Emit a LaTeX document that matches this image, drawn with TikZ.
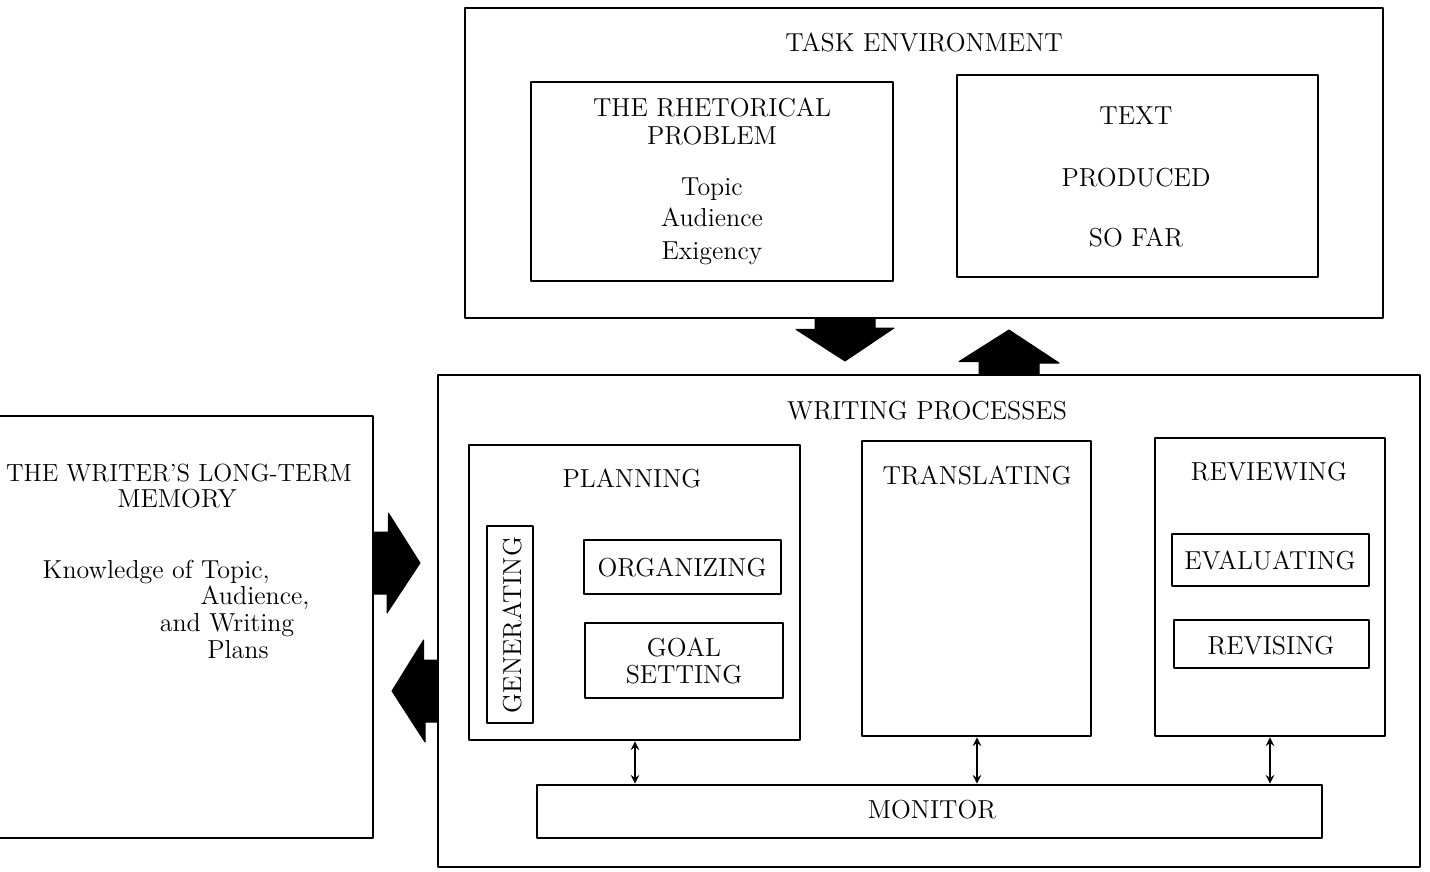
\documentclass[tikz,border=0pt]{standalone}
\usetikzlibrary{fit}
\tikzset{every picture/.style={line width=0.75pt}}
\begin{document}
\begin{tikzpicture}[x=0.5pt, y=-0.5pt,
    line cap=round, line join=round,
    box/.style={draw, line width=1.4pt, inner sep=0pt},
    lbl/.style={anchor=base, inner sep=0pt, font=\fontsize{13}{15}\selectfont},
    blockarrow/.style={fill=black, draw=black, line width=0.5pt},
    link/.style={>=stealth, <->, line width=0.9pt}]
  \useasboundingbox (0,0) rectangle (1430,872);

  % task environment
  \node[box, fit={(465,8) (1383,318)}] (task) {};
  \node[lbl] (taskt) at (924,52) {TASK ENVIRONMENT};
  \node[box, fit={(531,82) (893,281)}] (rhet) {};
  \node[lbl] (rhet1) at (712,117) {THE RHETORICAL};
  \node[lbl] (rhet2) at (712,145) {PROBLEM};
  \node[lbl] (rhet3) at (712,195) {Topic};
  \node[lbl] (rhet4) at (712,227) {Audience};
  \node[lbl] (rhet5) at (712,259) {Exigency};
  \node[box, fit={(957,75) (1318,277)}] (text) {};
  \node[lbl] (text1) at (1136,125) {TEXT};
  \node[lbl] (text2) at (1136,186) {PRODUCED};
  \node[lbl] (text3) at (1136,246) {SO FAR};

  % writing processes
  \node[box, fit={(438,375) (1420,867)}] (write) {};
  \node[lbl] (writet) at (927,419) {WRITING PROCESSES};
  \node[box, fit={(469,445) (800,740)}] (plan) {};
  \node[lbl] (plant) at (632,487) {PLANNING};
  \node[box, fit={(487,526) (533,723)}] (gen) {};
  \node[rotate=90, inner sep=0pt, font=\fontsize{13}{15}\selectfont] (gent) at (512,625) {GENERATING};
  \node[box, fit={(584,540) (781,594)}] (org) {};
  \node[lbl] (orgt) at (682,576) {ORGANIZING};
  \node[box, fit={(585,623) (783,698)}] (goal) {};
  \node[lbl] (goal1) at (684,656) {GOAL};
  \node[lbl] (goal2) at (684,683) {SETTING};
  \node[box, fit={(862,441) (1091,736)}] (trans) {};
  \node[lbl] (transt) at (977,484) {TRANSLATING};
  \node[box, fit={(1155,438) (1385,736)}] (rev) {};
  \node[lbl] (revt) at (1269,480) {REVIEWING};
  \node[box, fit={(1172,534) (1369,586)}] (eval) {};
  \node[lbl] (evalt) at (1270,569) {EVALUATING};
  \node[box, fit={(1174,620) (1369,668)}] (revis) {};
  \node[lbl] (revist) at (1271,654) {REVISING};
  \node[box, fit={(537,785) (1322,838)}] (mon) {};
  \node[lbl] (mont) at (932,818) {MONITOR};

  % long-term memory
  \node[box, fit={(-10,416) (373,838)}] (mem) {};
  \node[lbl, font=\fontsize{12.4}{15}\selectfont] (mem1) at (179,481) {THE WRITER'S LONG-TERM};
  \node[lbl] (mem2) at (177,507) {MEMORY};
  \node[lbl, anchor=base west] (mem3) at (42,578) {Knowledge of Topic,};
  \node[lbl] (mem4) at (255,604) {Audience,};
  \node[lbl] (mem5) at (227,631) {and Writing};
  \node[lbl] (mem6) at (238,658) {Plans};

  % block arrows
  \coordinate (dtip) at (845,361);
  \coordinate (utip) at (1009,330);
  \coordinate (rtip) at (420,563);
  \coordinate (ltip) at (392,691);
  \filldraw[blockarrow] (task.south -| dtip) ++(-30,0) -- ++(0,10) -- ++(-19,0) -- (dtip)
    -- ++(49,-33) -- ++(-19,0) -- ++(0,-10) -- cycle;
  \filldraw[blockarrow] (write.north -| utip) ++(-30,0) -- ++(0,-12) -- ++(-20,0) -- (utip)
    -- ++(50,33) -- ++(-20,0) -- ++(0,12) -- cycle;
  \filldraw[blockarrow] (mem.east |- rtip) ++(0,-31) -- ++(14,0) -- ++(0,-19) -- (rtip)
    -- ++(-33,50) -- ++(0,-19) -- ++(-14,0) -- cycle;
  \filldraw[blockarrow] (write.west |- ltip) ++(0,-31) -- ++(-13,0) -- ++(0,-20) -- (ltip)
    -- ++(33,51) -- ++(0,-20) -- ++(13,0) -- cycle;

  % monitor links
  \coordinate (m1) at (635,0);
  \coordinate (m2) at (977,0);
  \coordinate (m3) at (1270,0);
  \draw[link] (plan.south -| m1) -- (mon.north -| m1);
  \draw[link] (trans.south -| m2) -- (mon.north -| m2);
  \draw[link] (rev.south -| m3) -- (mon.north -| m3);
\end{tikzpicture}
\end{document}
